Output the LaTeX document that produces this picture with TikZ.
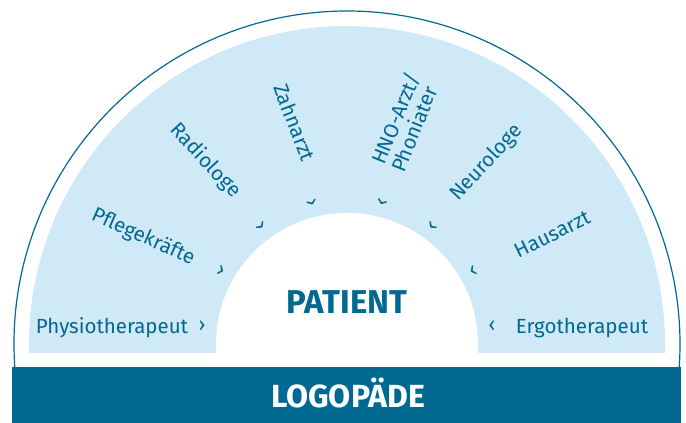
\documentclass[tikz,border=0pt]{standalone}
\usepackage{fontspec}
\setmainfont{Fira Sans}
\usetikzlibrary{calc,positioning}
\definecolor{logoBlue}{RGB}{0,105,145}
\definecolor{logoLight}{RGB}{208,233,246}
\tikzset{
myRole/.style={
	text=logoBlue, inner sep=0pt, anchor=mid,
	font=\fontsize{20.5}{21}\selectfont
}
, myChev/.style={
	text=logoBlue, inner sep=0pt,
	font=\fontsize{20}{20}\selectfont
}
, myPatient/.style={
	text=logoBlue, inner sep=0pt, anchor=base,
	font=\fontsize{33}{34}\selectfont\bfseries
}
, myLogo/.style={
	text=white, inner sep=0pt, anchor=base,
	font=\fontsize{32}{33}\selectfont\bfseries
}
% ring
, myRing/.style={draw=logoBlue, line width=1.2pt}
}

\begin{document}
\begin{tikzpicture}[x=1pt,y=1pt]
	\useasboundingbox (0,0) rectangle (686,423);
	\coordinate (C) at (347,79);
	% background
	\fill[logoLight] (29,70) -- (29,79) arc (180:0:318) -- (665,70) -- cycle;
	\fill[white] (216,70) -- (216,79) arc (180:0:131) -- (478,70) -- cycle;
	\path[myRing] ($(C)+(184:333)$) arc (184:-4:333);
	\fill[logoBlue] (12,0) rectangle (681,56);
	% centre
	\node[myPatient] (Patient) at (347,109) {PATIENT};
	\node[myLogo] (Logo) at (348,15) {LOGOPÄDE};
	% roles
	\node[myRole] (Physio) at (112,92) {Physiotherapeut};
	\node[myRole, rotate=-24] (Pflege) at (142,183) {Pflegekräfte};
	\node[myRole, rotate=-47] (Radio) at (203,260) {Radiologe};
	\node[myRole, rotate=-69] (Zahn) at (290,299) {Zahnarzt};
	\node[myRole, rotate=68, anchor=center, align=left] (HNO) at (405,301) {HNO-Arzt/\\Phoniater};
	\node[myRole, rotate=47] (Neuro) at (489,258) {Neurologe};
	\node[myRole, rotate=26] (Haus) at (554,185) {Hausarzt};
	\node[myRole] (Ergo) at (582,92) {Ergotherapeut};
	% chevrons
	\foreach \a/\r in {173/0, 150/-24, 126/-47, 104/-69}
		\node[myChev, rotate=\r] (ChL\a) at ($(C)+(\a:146)$) {›};
	\foreach \a/\r in {76/68, 54/47, 30/26, 7/0}
		\node[myChev, rotate=\r] (ChR\a) at ($(C)+(\a:146)$) {‹};
\end{tikzpicture}
\end{document}
